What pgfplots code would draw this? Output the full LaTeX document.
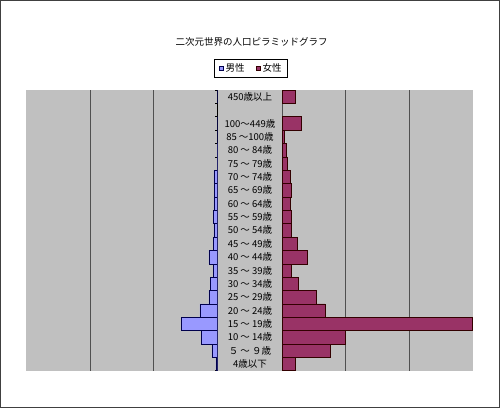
\documentclass[border=0pt]{standalone}
\usepackage{fontspec}
\setmainfont{Noto Sans CJK JP}
\usepackage{pgfplots}
\pgfplotsset{compat=1.18}
\definecolor{male}{HTML}{9999FF}
\definecolor{female}{HTML}{993366}
\definecolor{plotbg}{HTML}{C0C0C0}
\definecolor{gridc}{HTML}{505050}
\begin{document}
\begin{tikzpicture}[x=1pt,y=1pt]
\draw[line width=1.2pt, black!75] (0.6,0.6) rectangle (499.4,407.4);
\fill[plotbg] (26.3,37.3) rectangle (473.3,318);
\node[font=\fontsize{9.5}{11}\selectfont] at (251.7,366) {二次元世界の人口ピラミッドグラフ};
% male side
\begin{axis}[
  at={(26.3pt,37.3pt)}, anchor=south west,
  scale only axis, width=191.4pt, height=280.7pt,
  xmin=-300, xmax=0, ymin=-0.5, ymax=20.5,
  xbar, bar width=13.37pt,
  axis y line*=right, axis x line*=bottom,
  x axis line style={draw=none},
  y axis line style={-, black, line width=0.9pt},
  xtick={-200,-100}, xticklabels={},
  xmajorgrids, major grid style={gridc, line width=0.9pt},
  major tick length=0pt, minor tick length=3pt,
  tick align=inside,
  minor ytick={-0.5,0.5,...,20.5},
  minor tick style={black, line width=0.6pt},
  ytick={0,...,20},
  yticklabel pos=right,
  yticklabels={4歳以下,５ ～ ９歳,10 ～ 14歳,15 ～ 19歳,20 ～ 24歳,25 ～ 29歳,30 ～ 34歳,35 ～ 39歳,40 ～ 44歳,45 ～ 49歳,50 ～ 54歳,55 ～ 59歳,60 ～ 64歳,65 ～ 69歳,70 ～ 74歳,75 ～ 79歳,80 ～ 84歳,85 ～100歳,100～449歳,{},450歳以上},
  yticklabel style={anchor=center, xshift=32.3pt, font=\fontsize{9.5}{11}\selectfont, inner sep=0pt},
  legend style={at={(1.175,1.078)}, anchor=center, legend columns=2, draw=black, line width=0.6pt,
    font=\fontsize{9.5}{11}\selectfont, inner xsep=4pt, inner ysep=2.5pt,
    /tikz/every even column/.append style={column sep=9pt}},
  legend image code/.code={\draw[#1, line width=0.5pt] (0pt,-2.2pt) rectangle (4.4pt,2.2pt);},
]
\addplot[fill=male, draw=black!70!blue, line width=0.5pt] coordinates {
(-3,0) (-9,1) (-26,2) (-57,3) (-28,4) (-14,5) (-11,6) (-7,7) (-14,8) (-7,9)
(-6,10) (-7,11) (-6,12) (-5,13) (-6,14) (-1,15) (-1,16) (0,17) (0,18) (0,20)};
\addlegendentry{男性}
\addlegendimage{fill=female, draw=black!80!red}
\addlegendentry{女性}
\end{axis}
% female side
\begin{axis}[
  at={(282.1pt,37.3pt)}, anchor=south west,
  scale only axis, width=191.4pt, height=280.7pt,
  xmin=0, xmax=300, ymin=-0.5, ymax=20.5,
  xbar, bar width=13.37pt,
  axis line style={draw=none},
  xtick={0,100,200}, xticklabels={}, ytick=\empty,
  xmajorgrids, major grid style={gridc, line width=0.9pt},
  major tick length=0pt,
]
\addplot[fill=female, draw=black!80!red, line width=0.5pt] coordinates {
(21,0) (76,1) (99,2) (298,3) (67,4) (54,5) (25,6) (15,7) (39,8) (23,9)
(15,10) (14,11) (12,12) (14,13) (12,14) (8,15) (7,16) (4,17) (30,18) (21,20)};
\end{axis}
\end{tikzpicture}
\end{document}
